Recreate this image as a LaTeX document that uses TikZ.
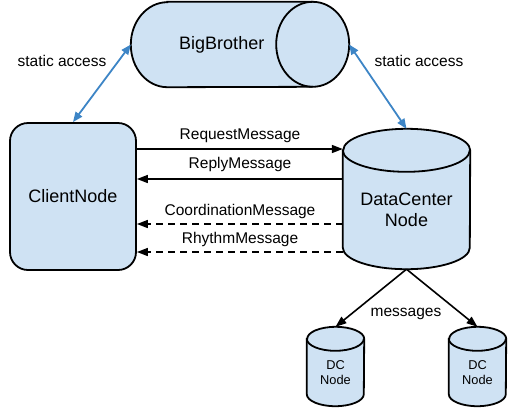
\documentclass[tikz,border=0pt]{standalone}
\usepackage{fontspec}
\setmainfont{Liberation Sans}
\usetikzlibrary{arrows.meta,backgrounds}
\definecolor{boxblue}{HTML}{CFE2F3}
\definecolor{linkblue}{HTML}{3D85C6}
% upright drum round a node: name, x radius, y radius
\newcommand{\upcyl}[3]{%
  \begin{scope}[on background layer]
    \draw [box] (#1.north west) -- ([yshift=#3]#1.south west) arc[start angle=180, end angle=360, x radius=#2, y radius=#3] -- (#1.north east) arc[start angle=0, end angle=180, x radius=#2, y radius=#3] -- cycle;
    \draw [box, fill=none] (#1.north west) arc[start angle=180, end angle=360, x radius=#2, y radius=#3];
  \end{scope}}
% lying drum round a node, cap on the right: name, x radius, y radius
\newcommand{\sidecyl}[3]{%
  \begin{scope}[on background layer]
    \draw [box] ([xshift=#2]#1.north west) -- (#1.north east) arc[start angle=90, end angle=-90, x radius=#2, y radius=#3] -- ([xshift=#2]#1.south west) arc[start angle=270, end angle=90, x radius=#2, y radius=#3] -- cycle;
    \draw [box, fill=none] (#1.north east) arc[start angle=90, end angle=270, x radius=#2, y radius=#3];
  \end{scope}}

\begin{document}
\begin{tikzpicture}[x=1pt,y=1pt]\tikzstyle{every node}+=[inner sep=0pt]
	  \tikzstyle{box}=[draw=black, line width=1.8pt, fill=boxblue]
	  \tikzstyle{big}=[font=\fontsize{18}{21}\selectfont, align=center]
	  \tikzstyle{small}=[font=\fontsize{12.8}{15}\selectfont, align=center]
	  \tikzstyle{msg}=[black, line width=1.6pt, -{Triangle[length=11pt,width=8pt]}]
	  \tikzstyle{link}=[linkblue, line width=1.8pt, {Triangle[length=10pt,width=8pt]}-{Triangle[length=10pt,width=8pt]}]
	  \tikzstyle{lbl}=[font=\fontsize{15.5}{18}\selectfont]
	  \useasboundingbox (0,0) rectangle (516,-408);
	  \node [big, minimum width=181.5pt, minimum height=85pt] (bigbrother) at (221.75,-44.5) {BigBrother};
	  \sidecyl{bigbrother}{36.5}{42.5}
	  \node [box, big, rounded corners=18pt, minimum width=126pt, minimum height=147pt] (client) at (73,-196.5) {ClientNode};
	  \node [big, minimum width=127pt, minimum height=118.5pt] (datacenter) at (406.5,-209.75) {DataCenter\\Node};
	  \upcyl{datacenter}{63.5}{21.5}
	  \node [small, minimum width=57pt, minimum height=67pt] (dcleft) at (335.5,-372.5) {DC\\Node};
	  \upcyl{dcleft}{28.5}{12}
	  \node [small, minimum width=57pt, minimum height=67pt] (dcright) at (477.5,-372.5) {DC\\Node};
	  \upcyl{dcright}{28.5}{12}
	  \draw [link] (client.north) -- (bigbrother.west);
	  \draw [link] ([yshift=21.5pt]datacenter.north) -- ([xshift=36.5pt]bigbrother.east);
	  \draw (62,-61) node [lbl] (leftaccess) {static access};
	  \draw (419,-61) node [lbl] (rightaccess) {static access};
	  \draw [msg] (client.east |- 0,-149) -- (datacenter.west |- 0,-149);
	  \draw [msg] (datacenter.west |- 0,-179) -- (client.east |- 0,-179);
	  \draw [msg, dash pattern=on 7pt off 5pt] (datacenter.west |- 0,-224) -- (client.east |- 0,-224);
	  \draw [msg, dash pattern=on 7pt off 5pt] (datacenter.west |- 0,-252) -- (client.east |- 0,-252);
	  \draw (240,-136) node [lbl] (request) {RequestMessage};
	  \draw (240,-164) node [lbl] (reply) {ReplyMessage};
	  \draw (240,-211) node [lbl] (coordination) {CoordinationMessage};
	  \draw (240,-239) node [lbl] (rhythm) {RhythmMessage};
	  \draw [msg] (datacenter.south) -- ([yshift=12pt]dcleft.north);
	  \draw [msg] (datacenter.south) -- ([yshift=12pt]dcright.north);
	  \draw (406,-314) node [lbl] (messages) {messages};
	\end{tikzpicture}
\end{document}
